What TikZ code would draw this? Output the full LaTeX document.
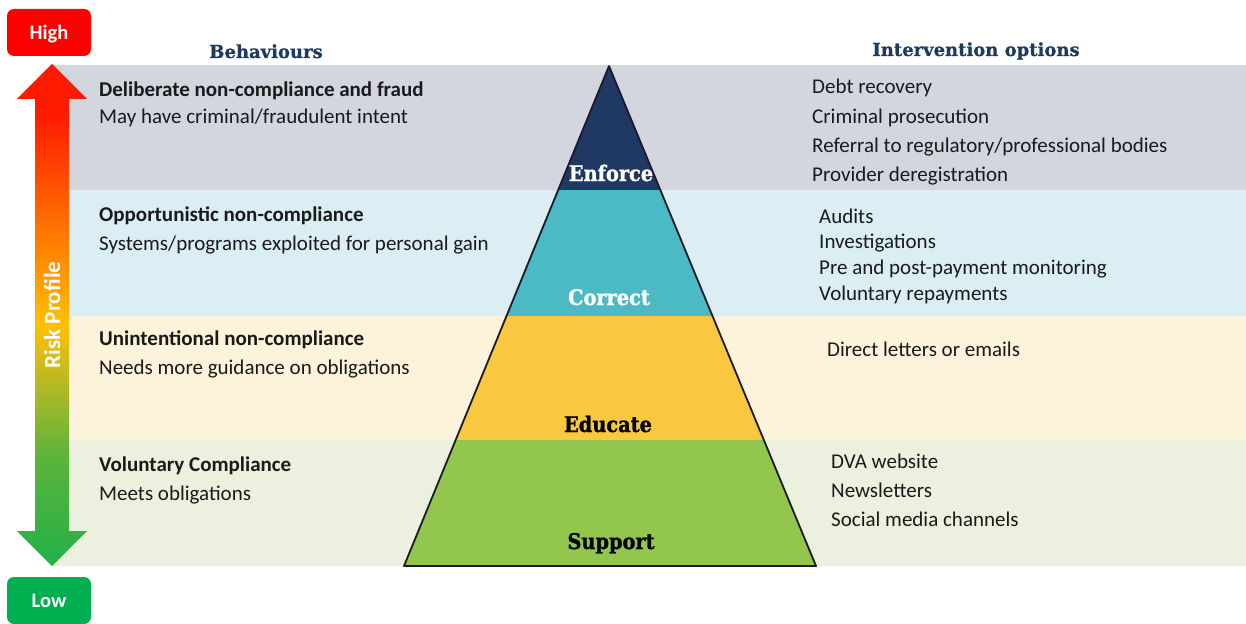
\documentclass[tikz,border=0pt]{standalone}
\usepackage{fontspec}
\setmainfont{Carlito}
\newfontfamily\slab[FakeStretch=0.9,FakeBold=1.2]{DejaVu Serif}
\newfontfamily\slabhead[FakeBold=0.8]{DejaVu Serif}
\usetikzlibrary{calc}
\definecolor{bandA}{HTML}{D3D5DF}
\definecolor{bandB}{HTML}{DAEEF3}
\definecolor{bandC}{HTML}{FDF2DA}
\definecolor{bandD}{HTML}{EBF1DE}
\definecolor{pyrA}{HTML}{203864}
\definecolor{pyrB}{HTML}{4BBAC4}
\definecolor{pyrC}{HTML}{FAC840}
\definecolor{pyrD}{HTML}{92C64D}
\definecolor{outl}{HTML}{1A1A2A}
\definecolor{headc}{HTML}{1F3A5F}
\definecolor{txt}{HTML}{1A1A1A}
\definecolor{hired}{HTML}{FF0000}
\definecolor{logreen}{HTML}{00B050}
\definecolor{rgreen}{HTML}{22B04A}
\definecolor{rgreen2}{HTML}{5CB43A}
\definecolor{rolive}{HTML}{C0BA22}
\definecolor{ryellow}{HTML}{FFC000}
\definecolor{rorange}{HTML}{FF8000}
\definecolor{rred}{HTML}{FF1A00}
\pgfdeclareverticalshading{riskshade}{100bp}{color(0bp)=(rgreen); color(25bp)=(rgreen); color(36bp)=(rgreen2); color(44bp)=(rolive); color(49bp)=(ryellow); color(57bp)=(rorange); color(70bp)=(rred); color(100bp)=(rred)}
\tikzset{
  lbold/.style={anchor=base west, font=\fontsize{21}{24}\selectfont\bfseries, text=txt, inner sep=0},
  lnorm/.style={anchor=base west, font=\fontsize{21}{24}\selectfont, text=txt, inner sep=0},
  headtxt/.style={anchor=base, font=\slabhead\bfseries\fontsize{18}{20}\selectfont, text=headc, inner sep=0},
  tier/.style={anchor=base, font=\slab\bfseries\fontsize{21.5}{24}\selectfont, inner sep=0},
  lvl/.style={rounded corners=7, inner sep=0, minimum width=84, minimum height=47, text depth=0pt, text=white, font=\fontsize{20.5}{22}\selectfont\bfseries},
  pyredge/.style={draw=outl, line width=1.8, line join=round}
}
\begin{document}
\begin{tikzpicture}[x=1pt,y=-1pt]
\useasboundingbox (0,0) rectangle (1246,623);
\clip (0,0) rectangle (1246,623);
% bands
\fill[bandA] (52,65) rectangle (1246,190);
\fill[bandB] (52,190) rectangle (1246,316);
\fill[bandC] (52,316) rectangle (1246,440);
\fill[bandD] (52,440) rectangle (1246,566);
% risk arrow
\shade[shading=riskshade] (52,64) -- (87,99) -- (69,99) -- (69,531) -- (87,531) -- (52,566) -- (17,531) -- (35,531) -- (35,99) -- (17,99) -- cycle;
\node[rotate=90, text=white, font=\fontsize{23}{26}\selectfont\bfseries, inner sep=0] (risk) at (52,315) {Risk Profile};
% level boxes
\node[lvl, fill=hired] (high) at (49,32.5) {High};
\node[lvl, fill=logreen] (low) at (49,600.5) {Low};
% pyramid
\coordinate (apex) at (609,66);
\coordinate (bl) at (404,566);
\coordinate (br) at (816,566);
\coordinate (l1) at ($(apex)!0.248!(bl)$);
\coordinate (r1) at ($(apex)!0.248!(br)$);
\coordinate (l2) at ($(apex)!0.5!(bl)$);
\coordinate (r2) at ($(apex)!0.5!(br)$);
\coordinate (l3) at ($(apex)!0.748!(bl)$);
\coordinate (r3) at ($(apex)!0.748!(br)$);
\fill[pyrA] (apex) -- (r1) -- (l1) -- cycle;
\fill[pyrB] (l1) -- (r1) -- (r2) -- (l2) -- cycle;
\fill[pyrC] (l2) -- (r2) -- (r3) -- (l3) -- cycle;
\fill[pyrD] (l3) -- (r3) -- (br) -- (bl) -- cycle;
\draw[pyredge] (apex) -- (br) -- (bl) -- cycle;
\node[tier, text=white] (enforce) at (611,181) {Enforce};
\node[tier, text=white] (correct) at (609,305) {Correct};
\node[tier, text=black] (educate) at (608,432) {Educate};
\node[tier, text=black] (support) at (611,549) {Support};
% headings
\node[headtxt] (hbeh) at (266,58) {Behaviours};
\node[headtxt] (hint) at (976,56) {Intervention options};
% behaviours
\node[lbold] (b1) at (99,96) {Deliberate non-compliance and fraud};
\node[lnorm] (b1d) at (99,124) {May have criminal/fraudulent intent};
\node[lbold] (b2) at (99,221) {Opportunistic non-compliance};
\node[lnorm] (b2d) at (99,250) {Systems/programs exploited for personal gain};
\node[lbold] (b3) at (99,345) {Unintentional non-compliance};
\node[lnorm] (b3d) at (99,374) {Needs more guidance on obligations};
\node[lbold] (b4) at (99,471) {Voluntary Compliance};
\node[lnorm] (b4d) at (99,500) {Meets obligations};
% interventions
\node[lnorm] (i11) at (812,94) {Debt recovery};
\node[lnorm] (i12) at (812,123) {Criminal prosecution};
\node[lnorm] (i13) at (812,152) {Referral to regulatory/professional bodies};
\node[lnorm] (i14) at (812,181) {Provider deregistration};
\node[lnorm] (i21) at (819,223) {Audits};
\node[lnorm] (i22) at (819,248) {Investigations};
\node[lnorm] (i23) at (819,274) {Pre and post-payment monitoring};
\node[lnorm] (i24) at (819,300) {Voluntary repayments};
\node[lnorm] (i31) at (827,356) {Direct letters or emails};
\node[lnorm] (i41) at (831,468) {DVA website};
\node[lnorm] (i42) at (831,497) {Newsletters};
\node[lnorm] (i43) at (831,526) {Social media channels};
\end{tikzpicture}
\end{document}
